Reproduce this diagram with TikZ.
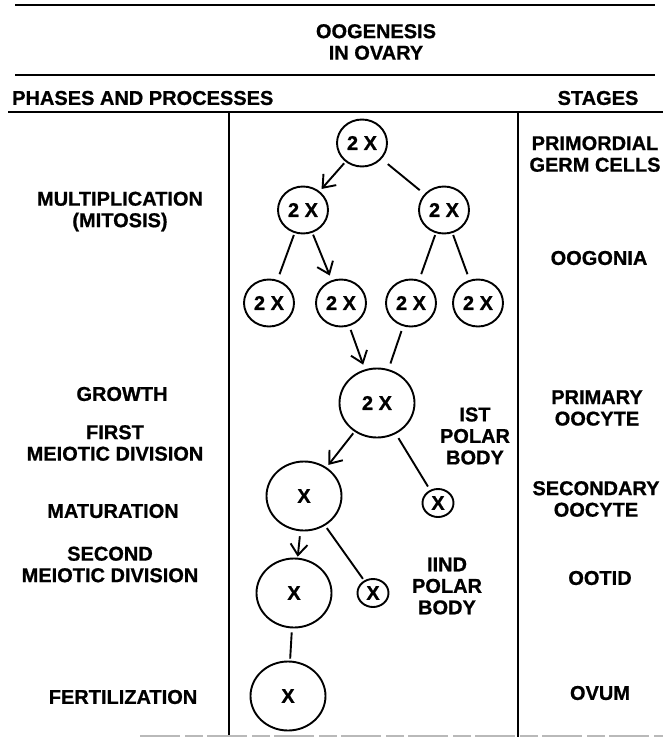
\documentclass[tikz,border=0pt]{standalone}
\usepackage{fontspec}
\setmainfont{Liberation Sans}[BoldFeatures={FakeBold=0.8}]
\usetikzlibrary{arrows.meta,shapes.geometric}
\begin{document}
\begin{tikzpicture}[x=1pt,y=-1pt,
  lbl/.style={font=\fontsize{20}{21.5}\selectfont\bfseries, align=center, inner sep=0pt},
  cell/.style={draw, line width=1.9pt, ellipse, inner sep=0pt, minimum width=50pt, minimum height=47pt, font=\fontsize{20}{21.5}\selectfont\bfseries},
  bigcell/.style={cell, minimum width=75pt, minimum height=69pt},
  polar/.style={cell, minimum width=31pt, minimum height=28pt},
  link/.style={line width=1.9pt, shorten <=2pt, shorten >=6pt},
  arr/.style={line width=1.9pt, shorten <=2pt, shorten >=3pt, -{Straight Barb[length=11pt,width=17pt,line width=1.9pt]}},
  frame/.style={line width=2pt},
  faint/.style={line width=1.8pt, gray!55, dash pattern=on 40pt off 5pt on 18pt off 4pt}]
\useasboundingbox (0,0) rectangle (663,738);

% frame
\coordinate (h1a) at (15,5);   \coordinate (h1b) at (655,5);
\coordinate (h2a) at (15,75);  \coordinate (h2b) at (655,75);
\coordinate (h3a) at (8,112);  \coordinate (h3b) at (663,112);
\coordinate (v1a) at (229,112); \coordinate (v1b) at (229,737);
\coordinate (v2a) at (518,112); \coordinate (v2b) at (518,737);
\coordinate (ba) at (140,736); \coordinate (bb) at (663,736);
\draw[frame] (h1a) -- (h1b);
\draw[frame] (h2a) -- (h2b);
\draw[frame] (h3a) -- (h3b);
\draw[frame] (v1a) -- (v1b);
\draw[frame] (v2a) -- (v2b);
\draw[faint] (ba) -- (bb);

% headings
\node[lbl] (title) at (376,42) {OOGENESIS\\IN OVARY};
\node[lbl, anchor=west] (phases) at (12,98) {PHASES AND PROCESSES};
\node[lbl] (stages) at (598,98) {STAGES};

% left column
\node[lbl] (mult) at (120,211.5) {MULTIPLICATION\\(MITOSIS)};
\node[lbl] (growth) at (122,394) {GROWTH};
\node[lbl] (first) at (115,443) {FIRST\\MEIOTIC DIVISION};
\node[lbl] (matur) at (113,511) {MATURATION};
\node[lbl] (second) at (110,564.5) {SECOND\\MEIOTIC DIVISION};
\node[lbl] (fert) at (123,697) {FERTILIZATION};

% right column
\node[lbl] (primord) at (595,154) {PRIMORDIAL\\GERM CELLS};
\node[lbl] (oogonia) at (599,258) {OOGONIA};
\node[lbl] (primary) at (597,408) {PRIMARY\\OOCYTE};
\node[lbl] (secondary) at (596,499) {SECONDARY\\OOCYTE};
\node[lbl] (ootid) at (600,578) {OOTID};
\node[lbl] (ovum) at (600,693) {OVUM};

% cells
\node[cell] (c1) at (362,143) {2 X};
\node[cell] (c2L) at (303,210) {2 X};
\node[cell] (c2R) at (444,210) {2 X};
\node[cell] (c3a) at (269,303) {2 X};
\node[cell] (c3b) at (341,303) {2 X};
\node[cell] (c3c) at (411,303) {2 X};
\node[cell] (c3d) at (478,303) {2 X};
\node[bigcell] (po) at (377,403) {2 X};
\node[bigcell] (so) at (304,496) {X};
\node[polar] (pb1) at (438,503) {X};
\node[bigcell] (ot) at (294,593) {X};
\node[polar] (pb2) at (373,593) {X};
\node[bigcell] (ov) at (288,696) {X};

% polar body labels
\node[lbl] (pbl1) at (475,436) {IST\\POLAR\\BODY};
\node[lbl] (pbl2) at (447,586) {IIND\\POLAR\\BODY};

% connectors
\draw[arr] (c1) -- (c2L);
\draw[link, shorten <=8pt] (c1) -- (c2R);
\draw[link] (c2L) -- (c3a);
\draw[arr, shorten >=5pt] (c2L) -- (c3b);
\draw[link] (c2R) -- (c3c);
\draw[link] (c2R) -- (c3d);
\draw[arr, shorten <=4pt, shorten >=5pt] (c3b) -- (po);
\draw[link, shorten <=5pt] (c3c) -- (po);
\draw[arr] (po) -- (so);
\draw[link, shorten <=5pt, shorten >=4pt] (po) -- (pb1);
\draw[arr, shorten <=5pt, shorten >=1pt] (so) -- (ot);
\draw[link, shorten <=3pt, shorten >=2pt] (so) -- (pb2);
\draw[link, shorten <=4pt, shorten >=2pt] (ot) -- (ov);
\end{tikzpicture}
\end{document}
